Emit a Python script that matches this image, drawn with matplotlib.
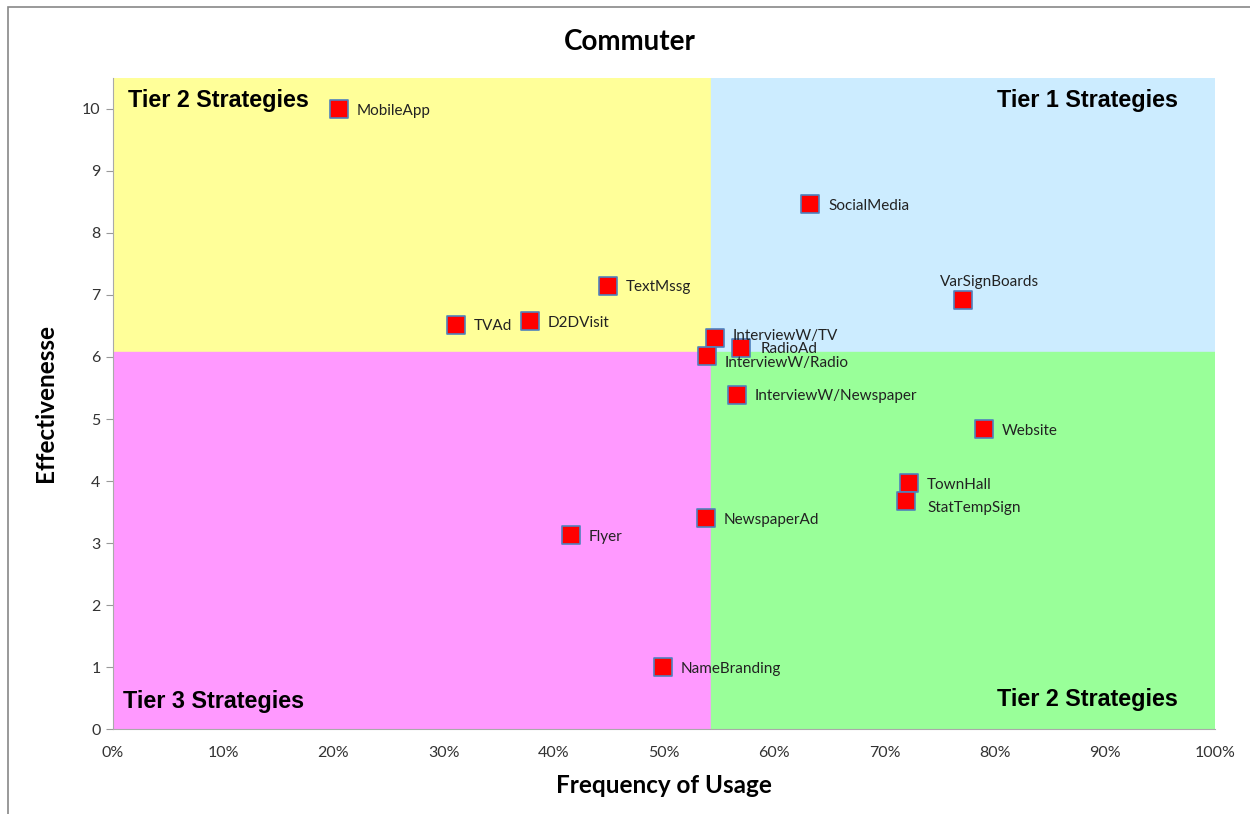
import matplotlib.pyplot as plt
from matplotlib.patches import Rectangle
from matplotlib.ticker import PercentFormatter

# strategy positions
names = ['MobileApp', 'SocialMedia', 'VarSignBoards', 'TextMssg', 'TVAd', 'D2DVisit',
         'InterviewW/TV', 'RadioAd', 'InterviewW/Radio', 'InterviewW/Newspaper',
         'Website', 'TownHall', 'StatTempSign', 'NewspaperAd', 'Flyer', 'NameBranding']
freq = [0.205, 0.6325, 0.771, 0.449, 0.311, 0.378,
        0.546, 0.570, 0.539, 0.566,
        0.790, 0.722, 0.720, 0.538, 0.4156, 0.499]
effect = [10.0, 8.47, 6.92, 7.15, 6.52, 6.58,
          6.31, 6.15, 6.02, 5.39,
          4.84, 3.97, 3.68, 3.40, 3.13, 1.0]

# quadrant split
x_split = 0.543
y_split = 6.08

plt.rcParams['font.family'] = ['Lato', 'DejaVu Sans']

fig = plt.figure(figsize=(12.5, 8.14), dpi=100)
ax = fig.add_axes([0.0904, 0.1044, 0.8816, 0.7998])
ax.set_xlim(0, 1)
ax.set_ylim(0, 10.5)

# outer frame
fig.patches.append(Rectangle((8 / 1250, -0.1), 1.2, 1 - 7 / 814 + 0.1,
                             transform=fig.transFigure, fill=False,
                             edgecolor='#888888', linewidth=1.2))

# quadrants
ax.add_patch(Rectangle((0, y_split), x_split, 10.5 - y_split, color='#FFFF99', zorder=0))
ax.add_patch(Rectangle((x_split, y_split), 1 - x_split, 10.5 - y_split, color='#CCECFF', zorder=0))
ax.add_patch(Rectangle((0, 0), x_split, y_split, color='#FF99FF', zorder=0))
ax.add_patch(Rectangle((x_split, 0), 1 - x_split, y_split, color='#99FF99', zorder=0))

ax.scatter(freq, effect, marker='s', s=150, color='red', edgecolors='#4F81BD',
           linewidths=1.2, zorder=3)

# label offsets in points (dx, dy, ha, va)
offsets = {
    'VarSignBoards': (-16, 13, 'left', 'center'),
    'InterviewW/TV': (13, 1, 'left', 'center'),
    'RadioAd': (14, -1, 'left', 'center'),
    'InterviewW/Radio': (13, -5, 'left', 'center'),
    'StatTempSign': (15, -5, 'left', 'center'),
}
for n, x, y in zip(names, freq, effect):
    dx, dy, ha, va = offsets.get(n, (13, -1.2, 'left', 'center'))
    ax.annotate(n, (x, y), xytext=(dx, dy), textcoords='offset points',
                ha=ha, va=va, fontsize=11, color='#222222', zorder=4)

tier_kw = dict(fontsize=16.8, fontweight='bold', family=['Liberation Sans'], transform=ax.transAxes)
ax.text(0.014, 0.965, 'Tier 2 Strategies', ha='left', va='center', **tier_kw)
ax.text(0.966, 0.965, 'Tier 1 Strategies', ha='right', va='center', **tier_kw)
ax.text(0.009, 0.042, 'Tier 3 Strategies', ha='left', va='center', **tier_kw)
ax.text(0.966, 0.046, 'Tier 2 Strategies', ha='right', va='center', **tier_kw)

ax.set_xticks([i / 10 for i in range(11)])
ax.set_yticks(range(11))
ax.xaxis.set_major_formatter(PercentFormatter(1.0, decimals=0))
ax.tick_params(axis='x', length=0, pad=12, labelsize=11.5, colors='#333333')
ax.tick_params(axis='y', length=5, pad=4, labelsize=11.5, colors='#333333')
ax.tick_params(axis='both', color='#999999')
for s in ['top', 'right']:
    ax.spines[s].set_visible(False)
for s in ['left', 'bottom']:
    ax.spines[s].set_color('#AAAAAA')

fig.text(0.504, 0.949, 'Commuter', ha='center', va='center', fontsize=20, fontweight='bold')
ax.set_xlabel('Frequency of Usage', fontsize=17.5, fontweight='bold', labelpad=10)
ax.set_ylabel('Effectivenesse', fontsize=17.5, fontweight='bold', labelpad=18)

fig.savefig('out.png', dpi=100)
